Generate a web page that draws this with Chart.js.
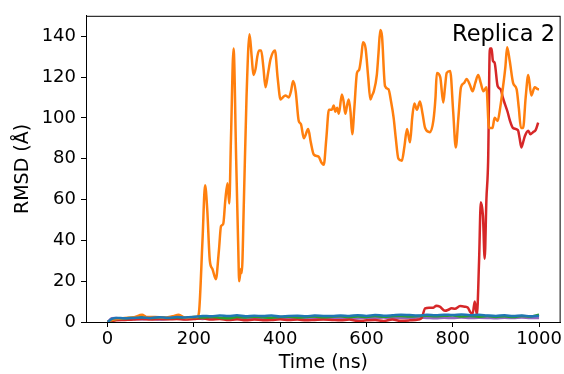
<!DOCTYPE html>
<html>
<head>
<meta charset="utf-8">
<script src="https://cdn.jsdelivr.net/npm/chart.js@4/dist/chart.umd.min.js"></script>
<style>
  html, body { margin: 0; padding: 0; background: #fff; }
  #wrap { width: 564px; height: 374px; }
</style>
</head>
<body>
<div id="wrap"><canvas id="stage" width="564" height="374"></canvas></div>
<script>
// time (ns) and RMSD (Å)
const xTicks = [0, 200, 400, 600, 800, 1000];
const yTicks = [0, 20, 40, 60, 80, 100, 120, 140];

const gridT = [0,10,20,40,60,80,100,120,140,160,180,200,220,240,260,280,300,320,340,360,380,400,420,440,460,480,500,520,540,560,580,600,620,640,660,680,700,720,740,760,780,800,820,840,860,880,900,920,940,960,980,1000];

const blueV = [0,1.5,2,1.8,2,2.2,2,2.3,2.1,2.4,2.2,2.5,3,2.8,3.2,2.9,3.3,2.8,3.1,2.9,3.2,2.7,3,3.1,2.8,3.2,3,2.9,3.2,3,3.3,3,3.4,3.1,3.3,3.6,3.4,3.2,3.5,3.3,3.6,3.4,3.7,3.3,3.5,3.2,3,3.3,2.9,3.2,2.8,3];
const greenV = [0,1,1.5,1.8,2.2,2.4,2,2.2,1.9,2.3,2.1,2.4,2.2,2.5,2.1,1.8,2.4,2.2,2.6,2.3,2.1,2.5,2.6,2.2,2.4,2.7,2.3,2.6,2.8,2.4,2.7,2.5,2.9,2.6,2.8,3,2.7,2.9,3.1,2.8,3,3.2,2.7,3,2.6,2.9,2.5,2.8,2.4,2.9,2.7,3.6];
const purpleV = [0,1.8,2,1.2,1.5,1.3,1.6,1.2,1.5,1.7,1.4,1.8,1.5,1.9,1.6,1.8,1.5,1.9,1.7,1.6,2,1.7,1.9,1.6,2,1.8,1.7,2.1,1.8,2,1.7,2.1,1.9,2.2,1.8,2.1,1.9,2.2,2,1.8,2.1,1.9,2.2,1.9,2.1,2,1.8,2.1,1.9,2.2,2,2];

const orangeT = [0,10,20,40,60,80,90,110,130,150,165,180,200,208,212,220,226,231,237,243,251,258,263,268,273,278,282,286,292,298,303,305,309,311,316,322,329,334,338,343,347,351,356,361,366,372,378,388,394,401,406,412,420,425,430,436,443,448,455,465,471,478,489,496,501,507,513,520,524,528,532,536,543,547,551,555,559,563,567,572,578,583,588,592,598,604,609,613,617,624,628,632,636,643,651,657,663,668,674,682,688,694,701,706,711,717,724,730,736,747,755,760,763,771,778,782,786,794,801,807,813,819,826,832,840,846,852,859,865,871,878,884,892,897,904,910,917,922,926,932,940,948,953,958,963,969,975,982,990,998,1000];
const orangeV = [0,1,1.5,2,2.2,3.5,2.5,2.5,2.2,2.8,3.5,2,2.5,2.5,5,40,67,55,30,26,21,35,47,48,60,68,58,90,134,80,35,20,26,24,60,110,141,130,121,124,130,133,133,125,115,122,129,133,120,109,110,111,110,113,118,113,98.5,97,90,94.5,88,82,81,78,77,90,104,104,106,103,105,102,111.5,108,102,106,109,103,92,105,122,123.5,130,137,134,120,109,111,113,121,132,143,140,115.6,114,108,100,90,80,79,86,94.5,88,100,107,104,108,102,95,93,98.5,110,122,120,107.5,115,122,123,103,85.5,100,115,117,119,116,113,117,121,117,113,115,95,95,100,98.5,105,116,125,134.6,128,117,114,105,95,95,110,121,111,115,114,114];

const redT = [0,20,40,60,80,100,120,140,160,180,200,220,240,260,280,300,320,340,360,380,400,420,440,460,480,500,520,540,560,580,600,620,640,660,680,700,720,728,736,745,755,762,770,782,790,797,805,817,828,835,840,846,851,856,861,865,870,874,878,882,886,890,893,897,904,911,916,921,927,932,940,951,955,959,963,967,975,980,986,992,998];
const redV = [0,0.8,1,1.2,1.5,1.2,1.5,1.3,1.5,1.2,1.5,1.8,1.2,1.5,1,1.3,0.8,1.2,0.9,1,1.3,1,1.2,0.8,1,1.2,1,0.8,1.2,0.5,0.8,1,0.5,1.2,0.6,0.8,1.2,2,6.7,7,7,8,7.5,5.5,6,6.7,6.5,7.8,7.5,7,5,4,10,3.5,30,58.7,52,31,60,79,134,134,128,127,115.6,114,110,106.7,103,99,95,94,90,85.5,88,91,93.7,92,93,94,97.7];

function pts(t, v) { return t.map((x, i) => ({x: x, y: v[i]})); }

function line(label, t, v, color) {
    return {
        label: label,
        data: pts(t, v),
        borderColor: color,
        backgroundColor: color,
        borderWidth: 2.5,
        pointRadius: 0,
        tension: 0.3,
        cubicInterpolationMode: 'monotone',
        fill: false
    };
}

const boxAndLabel = {
    id: 'boxAndLabel',
    afterDraw(chart) {
        const c = chart.ctx, a = chart.chartArea;
        c.save();
        c.strokeStyle = '#000';
        c.lineWidth = 1;
        c.strokeRect(a.left + 0.5, a.top + 0.5, a.right - a.left - 1, a.bottom - a.top);
        c.fillStyle = '#000';
        c.font = '22.5px "DejaVu Sans"';
        c.textAlign = 'right';
        c.textBaseline = 'alphabetic';
        c.fillText('Replica 2', 555, 41);
        c.restore();
    }
};

const tickFont = {family: '"DejaVu Sans"', size: 18};
const titleFont = {family: '"DejaVu Sans"', size: 19};

new Chart(document.getElementById('stage'), {
    type: 'line',
    data: {
        datasets: [
            line('1', gridT, blueV, '#1f77b4'),
            line('2', orangeT, orangeV, '#ff7f0e'),
            line('3', gridT, greenV, '#2ca02c'),
            line('4', redT, redV, '#d62728'),
            line('5', gridT, purpleV, '#9467bd')
        ]
    },
    options: {
        responsive: false,
        animation: false,
        layout: {padding: {top: 14, right: 1, left: 0, bottom: 0}},
        plugins: {legend: {display: false}, tooltip: {enabled: false}},
        scales: {
            x: {
                type: 'linear',
                min: -50, max: 1050,
                afterBuildTicks: s => { s.ticks = xTicks.map(v => ({value: v})); },
                afterFit: s => { s.height = 52; },
                ticks: {color: '#000', font: tickFont, padding: 2, maxRotation: 0, callback: v => String(v)},
                grid: {drawOnChartArea: false, tickLength: 5, color: '#000'},
                border: {display: true, color: '#000', width: 1},
                title: {display: true, text: 'Time (ns)', color: '#000', font: titleFont, padding: {top: 3, bottom: 0}}
            },
            y: {
                min: 0, max: 150,
                afterBuildTicks: s => { s.ticks = yTicks.map(v => ({value: v})); },
                afterFit: s => { s.width = 86; },
                ticks: {color: '#000', font: tickFont, padding: 5, callback: v => String(v)},
                grid: {drawOnChartArea: false, tickLength: 5, color: '#000'},
                border: {display: true, color: '#000', width: 1},
                title: {display: true, text: 'RMSD (Å)', color: '#000', font: titleFont, padding: {top: 12, bottom: 0}}
            }
        }
    },
    plugins: [boxAndLabel]
});
</script>
</body>
</html>
